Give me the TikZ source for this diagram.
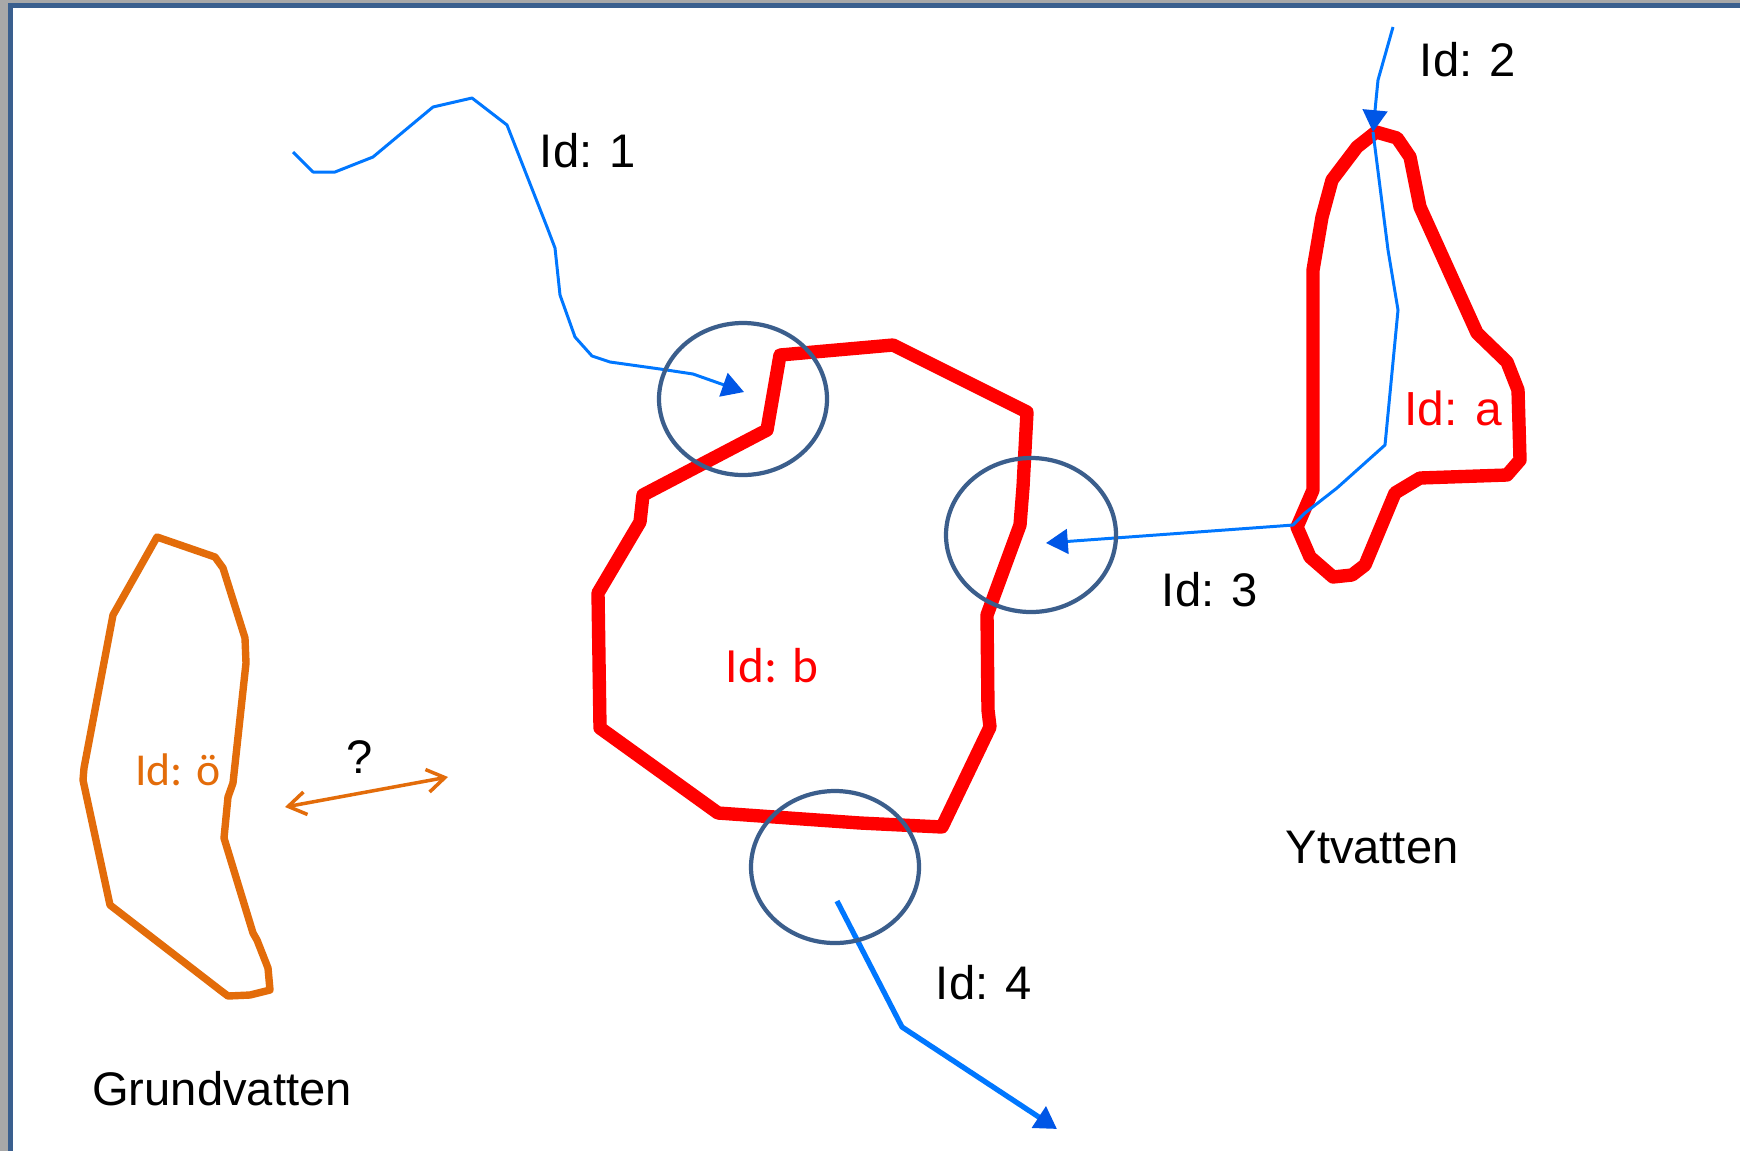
\documentclass[tikz,border=0pt]{standalone}
\usepackage{fontspec}
\setmainfont{Liberation Sans}
\newfontfamily\calib{Carlito}
\usetikzlibrary{arrows.meta}

\definecolor{framegray}{RGB}{168,168,168}
\definecolor{frameblue}{RGB}{58,95,142}
\definecolor{lakered}{RGB}{255,0,0}
\definecolor{gwor}{RGB}{227,108,10}
\definecolor{riverblue}{RGB}{0,119,255}
\definecolor{headblue}{RGB}{0,86,230}
\definecolor{ringblue}{RGB}{59,94,140}

\tikzset{
  lake/.style={draw=lakered, line width=3.8pt, line join=round},
  gwlake/.style={draw=gwor, line width=2.1pt, line join=round},
  river/.style={draw=riverblue, line width=0.85pt, line join=round},
  bigriver/.style={draw=riverblue, line width=1.5pt, line join=round},
  flowtip/.style={-{Triangle[length=6.2pt, width=7pt, color=headblue]}},
  ring/.style={draw=ringblue, line width=1.2pt},
  lbl/.style={font=\fontsize{13.4}{16}\selectfont, text=black, inner sep=0pt},
  redlbl/.style={font=\fontsize{13.6}{16}\selectfont, text=lakered, inner sep=0pt},
  redlblc/.style={font=\calib\fontsize{14}{16}\selectfont, text=lakered, inner sep=0pt},
  orlbl/.style={font=\calib\fontsize{13}{16}\selectfont, text=gwor, inner sep=0pt},
  exchange/.style={draw=gwor, line width=1pt,
    {Straight Barb[length=5pt, width=6.5pt]}-{Straight Barb[length=5pt, width=6.5pt]}}
}

\begin{document}
\begin{tikzpicture}[x=0.01cm, y=-0.01cm]
  % page and frame
  \useasboundingbox (0,0) rectangle (1740,1151);
  \fill[white] (0,0) rectangle (1740,1151);
  \fill[framegray] (0,0) rectangle (8,1151);
  \fill[framegray] (0,0) rectangle (1740,3);
  \fill[frameblue] (8,3) rectangle (13,1151);
  \fill[frameblue] (8,3) rectangle (1740,8);

  % lake b
  \draw[lake] (780,355) -- (893,345) -- (1027,412) -- (1023,487) -- (1020,525)
    -- (987,615) -- (988,710) -- (990,727) -- (942,827) -- (860,823)
    -- (718,813) -- (600,728) -- (598,593) -- (640,522) -- (643,495)
    -- (767,430) -- cycle;

  % lake a
  \draw[lake] (1376,132) -- (1397,138) -- (1410,157) -- (1420,207) -- (1477,333)
    -- (1507,362) -- (1518,390) -- (1520,460) -- (1507,475) -- (1420,478)
    -- (1395,493) -- (1365,565) -- (1352,575) -- (1333,577) -- (1310,557)
    -- (1297,527) -- (1313,490) -- (1313,380) -- (1313,270) -- (1322,217)
    -- (1332,180) -- (1357,147) -- cycle;

  % groundwater body
  \draw[gwlake] (157,537) -- (215,557) -- (223,568) -- (245,638) -- (246,663)
    -- (233,783) -- (228,797) -- (224,838) -- (253,933) -- (257,940)
    -- (268,968) -- (270,990) -- (250,995) -- (228,996) -- (220,990)
    -- (110,905) -- (83,780) -- (84,768) -- (113,615) -- cycle;

  % rivers
  \coordinate (r1s) at (293,152);
  \coordinate (r1e) at (744,392);
  \draw[river, flowtip] (r1s) -- (313,172) -- (335,172) -- (373,157) -- (433,107)
    -- (472,98) -- (507,125) -- (547,227) -- (555,248) -- (560,295)
    -- (575,337) -- (592,356) -- (610,362) -- (660,369) -- (693,374) -- (r1e);

  \coordinate (r2s) at (1393,27);
  \coordinate (r2e) at (1373,132);
  \draw[river, flowtip] (r2s) -- (1378,80) -- (1376,100) -- (r2e);

  \coordinate (r3e) at (1046,543);
  \draw[river, flowtip] (r2e) -- (1388,250) -- (1398,310) -- (1385,445)
    -- (1337,488) -- (1305,513) -- (1293,525) -- (1280,526) -- (r3e);

  \coordinate (r4s) at (837,901);
  \coordinate (r4e) at (1057,1129);
  \draw[bigriver, flowtip] (r4s) -- (902,1027) -- (r4e);

  % contact zones
  \draw[ring] (743,399) ellipse [x radius=84, y radius=76];
  \draw[ring] (1031,535) ellipse [x radius=85, y radius=77];
  \draw[ring] (835,867) ellipse [x radius=84, y radius=76];

  % exchange with groundwater
  \coordinate (exl) at (285,807);
  \coordinate (exr) at (448,777);
  \draw[exchange] (exl) -- (exr);

  % labels
  \node[lbl] (id1) at (588,151) {Id: 1};
  \node[lbl] (id2) at (1468,60) {Id: 2};
  \node[lbl] (id3) at (1210,590) {Id: 3};
  \node[lbl] (id4) at (984,983) {Id: 4};
  \node[redlbl] (ida) at (1453,408) {Id: a};
  \node[redlblc] (idb) at (772,666) {Id: b};
  \node[orlbl] (ido) at (178,770) {Id: ö};
  \node[lbl] (q) at (360,757) {?};
  \node[lbl] (yt) at (1372,848) {Ytvatten};
  \node[lbl] (gr) at (222,1089) {Grundvatten};
\end{tikzpicture}
\end{document}
